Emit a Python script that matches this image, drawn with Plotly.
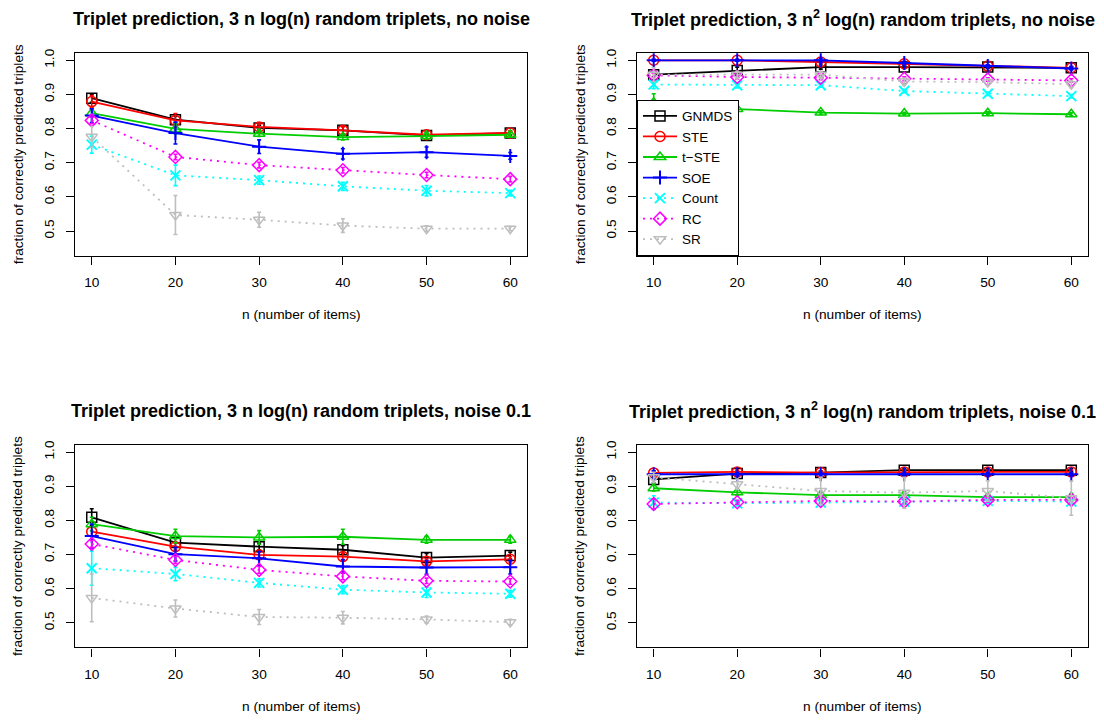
import plotly.graph_objects as go

n_items = [10, 20, 30, 40, 50, 60]
methods = ["GNMDS", "STE", "t\u2212STE", "SOE", "Count", "RC", "SR"]

# top-left: 3 n log(n), no noise
tl_mean = {
    "GNMDS": [0.889, 0.826, 0.802, 0.795, 0.780, 0.787],
    "STE":   [0.879, 0.824, 0.805, 0.795, 0.782, 0.787],
    "t\u2212STE": [0.845, 0.799, 0.785, 0.775, 0.778, 0.782],
    "SOE":   [0.838, 0.787, 0.747, 0.726, 0.731, 0.720],
    "Count": [0.753, 0.663, 0.649, 0.631, 0.618, 0.611],
    "RC":    [0.824, 0.717, 0.693, 0.678, 0.664, 0.652],
    "SR":    [0.776, 0.547, 0.533, 0.516, 0.507, 0.507],
}
tl_err = {
    "GNMDS": [0.012, 0.010, 0.008, 0.012, 0.010, 0.006],
    "STE":   [0.018, 0.020, 0.008, 0.010, 0.012, 0.006],
    "t\u2212STE": [0.012, 0.015, 0.008, 0.008, 0.008, 0.006],
    "SOE":   [0.020, 0.032, 0.020, 0.015, 0.015, 0.010],
    "Count": [0.025, 0.030, 0.012, 0.012, 0.015, 0.008],
    "RC":    [0.010, 0.008, 0.008, 0.008, 0.008, 0.008],
    "SR":    [0.030, 0.057, 0.022, 0.020, 0.008, 0.006],
}
# top-right: 3 n^2 log(n), no noise
tr_mean = {
    "GNMDS": [0.958, 0.970, 0.980, 0.980, 0.980, 0.978],
    "STE":   [1.000, 1.000, 0.995, 0.990, 0.983, 0.978],
    "t\u2212STE": [0.876, 0.857, 0.847, 0.844, 0.845, 0.842],
    "SOE":   [1.000, 1.000, 1.000, 0.992, 0.983, 0.976],
    "Count": [0.929, 0.927, 0.927, 0.910, 0.902, 0.895],
    "RC":    [0.956, 0.951, 0.949, 0.946, 0.944, 0.941],
    "SR":    [0.958, 0.958, 0.958, 0.938, 0.936, 0.930],
}
tr_err = {
    "GNMDS": [0.006, 0.010, 0.006, 0.004, 0.004, 0.004],
    "STE":   [0.003, 0.003, 0.004, 0.004, 0.004, 0.004],
    "t\u2212STE": [0.026, 0.006, 0.005, 0.004, 0.004, 0.004],
    "SOE":   [0.003, 0.003, 0.006, 0.005, 0.004, 0.004],
    "Count": [0.012, 0.008, 0.006, 0.005, 0.005, 0.005],
    "RC":    [0.006, 0.006, 0.006, 0.006, 0.005, 0.005],
    "SR":    [0.020, 0.010, 0.010, 0.010, 0.010, 0.010],
}
# bottom-left: 3 n log(n), noise 0.1
bl_mean = {
    "GNMDS": [0.809, 0.735, 0.723, 0.714, 0.691, 0.697],
    "STE":   [0.767, 0.723, 0.699, 0.694, 0.680, 0.686],
    "t\u2212STE": [0.789, 0.754, 0.750, 0.752, 0.743, 0.743],
    "SOE":   [0.754, 0.701, 0.689, 0.665, 0.662, 0.663],
    "Count": [0.660, 0.643, 0.617, 0.597, 0.589, 0.585],
    "RC":    [0.731, 0.684, 0.655, 0.636, 0.623, 0.621],
    "SR":    [0.573, 0.542, 0.517, 0.515, 0.510, 0.502],
}
bl_err = {
    "GNMDS": [0.025, 0.012, 0.010, 0.012, 0.012, 0.010],
    "STE":   [0.012, 0.010, 0.008, 0.010, 0.008, 0.008],
    "t\u2212STE": [0.020, 0.020, 0.020, 0.022, 0.010, 0.010],
    "SOE":   [0.035, 0.020, 0.020, 0.020, 0.020, 0.020],
    "Count": [0.050, 0.020, 0.012, 0.012, 0.015, 0.010],
    "RC":    [0.010, 0.010, 0.010, 0.010, 0.008, 0.008],
    "SR":    [0.070, 0.025, 0.022, 0.018, 0.010, 0.008],
}
# bottom-right: 3 n^2 log(n), noise 0.1
br_mean = {
    "GNMDS": [0.920, 0.937, 0.940, 0.947, 0.947, 0.947],
    "STE":   [0.939, 0.942, 0.940, 0.942, 0.942, 0.942],
    "t\u2212STE": [0.894, 0.882, 0.874, 0.874, 0.868, 0.868],
    "SOE":   [0.935, 0.935, 0.935, 0.935, 0.935, 0.935],
    "Count": [0.852, 0.850, 0.852, 0.855, 0.857, 0.855],
    "RC":    [0.848, 0.853, 0.857, 0.855, 0.860, 0.860],
    "SR":    [0.926, 0.906, 0.886, 0.881, 0.886, 0.865],
}
br_err = {
    "GNMDS": [0.010, 0.006, 0.005, 0.005, 0.005, 0.005],
    "STE":   [0.006, 0.005, 0.005, 0.005, 0.005, 0.005],
    "t\u2212STE": [0.008, 0.008, 0.006, 0.006, 0.006, 0.010],
    "SOE":   [0.010, 0.005, 0.005, 0.005, 0.005, 0.005],
    "Count": [0.020, 0.008, 0.008, 0.008, 0.008, 0.008],
    "RC":    [0.015, 0.006, 0.006, 0.006, 0.006, 0.006],
    "SR":    [0.015, 0.015, 0.040, 0.045, 0.030, 0.050],
}

titles = [
    "<b>Triplet prediction, 3 n log(n) random triplets, no noise</b>",
    "<b>Triplet prediction, 3 n<sup>2</sup> log(n) random triplets, no noise</b>",
    "<b>Triplet prediction, 3 n log(n) random triplets, noise 0.1</b>",
    "<b>Triplet prediction, 3 n<sup>2</sup> log(n) random triplets, noise 0.1</b>",
]

colors = {"GNMDS": "#000000", "STE": "#FF0000", "t\u2212STE": "#00CD00", "SOE": "#0000FF",
          "Count": "#00FFFF", "RC": "#FF00FF", "SR": "#BEBEBE"}
symbols = {"GNMDS": "square-open", "STE": "circle-open", "t\u2212STE": "triangle-up-open",
           "SOE": "cross-thin-open", "Count": "x-thin-open", "RC": "diamond-open",
           "SR": "triangle-down-open"}
dashes = {"GNMDS": "solid", "STE": "solid", "t\u2212STE": "solid", "SOE": "solid",
          "Count": "2px,5px", "RC": "2px,5px", "SR": "2px,5px"}

OFF = 8  # default page margin of the html body
W, H = 1104 - OFF, 720 - OFF
FONT = "Liberation Sans, Arial, Helvetica, sans-serif"


def fx(px):
    return (px - OFF) / W


def fy(py):
    return 1 - (py - OFF) / H


# panel boxes in page pixels: (left, right, top, bottom)
boxes = [(75, 527, 49, 253), (637, 1088, 49, 253), (75, 527, 443, 647), (637, 1088, 443, 647)]
panels = [(tl_mean, tl_err), (tr_mean, tr_err), (bl_mean, bl_err), (br_mean, br_err)]

fig = go.Figure()
layout = dict(width=W, height=H, margin=dict(l=0, r=0, t=0, b=0),
              paper_bgcolor="white", plot_bgcolor="white",
              font=dict(family=FONT, size=13, color="black"), showlegend=True)
annotations = []

for i, ((L, R, T, B), (means, errs)) in enumerate(zip(boxes, panels)):
    k = "" if i == 0 else str(i + 1)
    xa, ya = "x" + k, "y" + k
    for m in methods:
        sym = symbols[m]
        mw = 2 if "thin" in sym else 1.5
        fig.add_trace(go.Scatter(
            x=n_items, y=means[m], xaxis=xa, yaxis=ya, name=m, mode="lines+markers",
            legendgroup=m, showlegend=(i == 1),
            line=dict(color=colors[m], width=1.8, dash=dashes[m]),
            marker=dict(symbol=sym, size=10, color=colors[m], line=dict(color=colors[m], width=mw)),
            error_y=dict(type="data", array=errs[m], visible=True, color=colors[m],
                         thickness=1.6, width=2),
        ))
    axcommon = dict(showgrid=False, zeroline=False, showline=True, mirror=True,
                    linecolor="black", linewidth=1.2, ticks="outside", ticklen=8,
                    tickcolor="black", tickwidth=1, tickfont=dict(size=13.7, family=FONT),
                    ticklabelstandoff=6)
    layout["xaxis" + k] = dict(domain=[fx(L), fx(R)], range=[8, 62], anchor=ya,
                               tickvals=n_items, **axcommon)
    layout["yaxis" + k] = dict(domain=[fy(B), fy(T)], range=[0.428, 1.022], anchor=xa,
                               tickvals=[0.5, 0.6, 0.7, 0.8, 0.9, 1.0],
                               ticktext=["0.5", "0.6", "0.7", "0.8", "0.9", "1.0"],
                               tickangle=-90, **axcommon)
    cx = fx((L + R) / 2)
    annotations.append(dict(text=titles[i], x=cx, y=fy(T - 34), xref="paper", yref="paper",
                            showarrow=False, font=dict(size=18, family=FONT), xanchor="center",
                            yanchor="middle"))
    annotations.append(dict(text="n (number of items)", x=cx, y=fy(B + 59), xref="paper",
                            yref="paper", showarrow=False, font=dict(size=13.7, family=FONT),
                            xanchor="center", yanchor="middle"))
    annotations.append(dict(text="fraction of correctly predicted triplets", x=fx(L - 57),
                            y=fy((T + B) / 2), xref="paper", yref="paper", showarrow=False,
                            textangle=-90, font=dict(size=13.7, family=FONT),
                            xanchor="center", yanchor="middle"))

layout["annotations"] = annotations
layout["legend"] = dict(x=fx(637), y=fy(253), xanchor="left", yanchor="bottom",
                        bgcolor="white", bordercolor="black", borderwidth=1,
                        font=dict(size=13.5, family=FONT), itemwidth=34,
                        tracegroupgap=0)
fig.update_layout(**layout)
fig.write_html("out.html")
